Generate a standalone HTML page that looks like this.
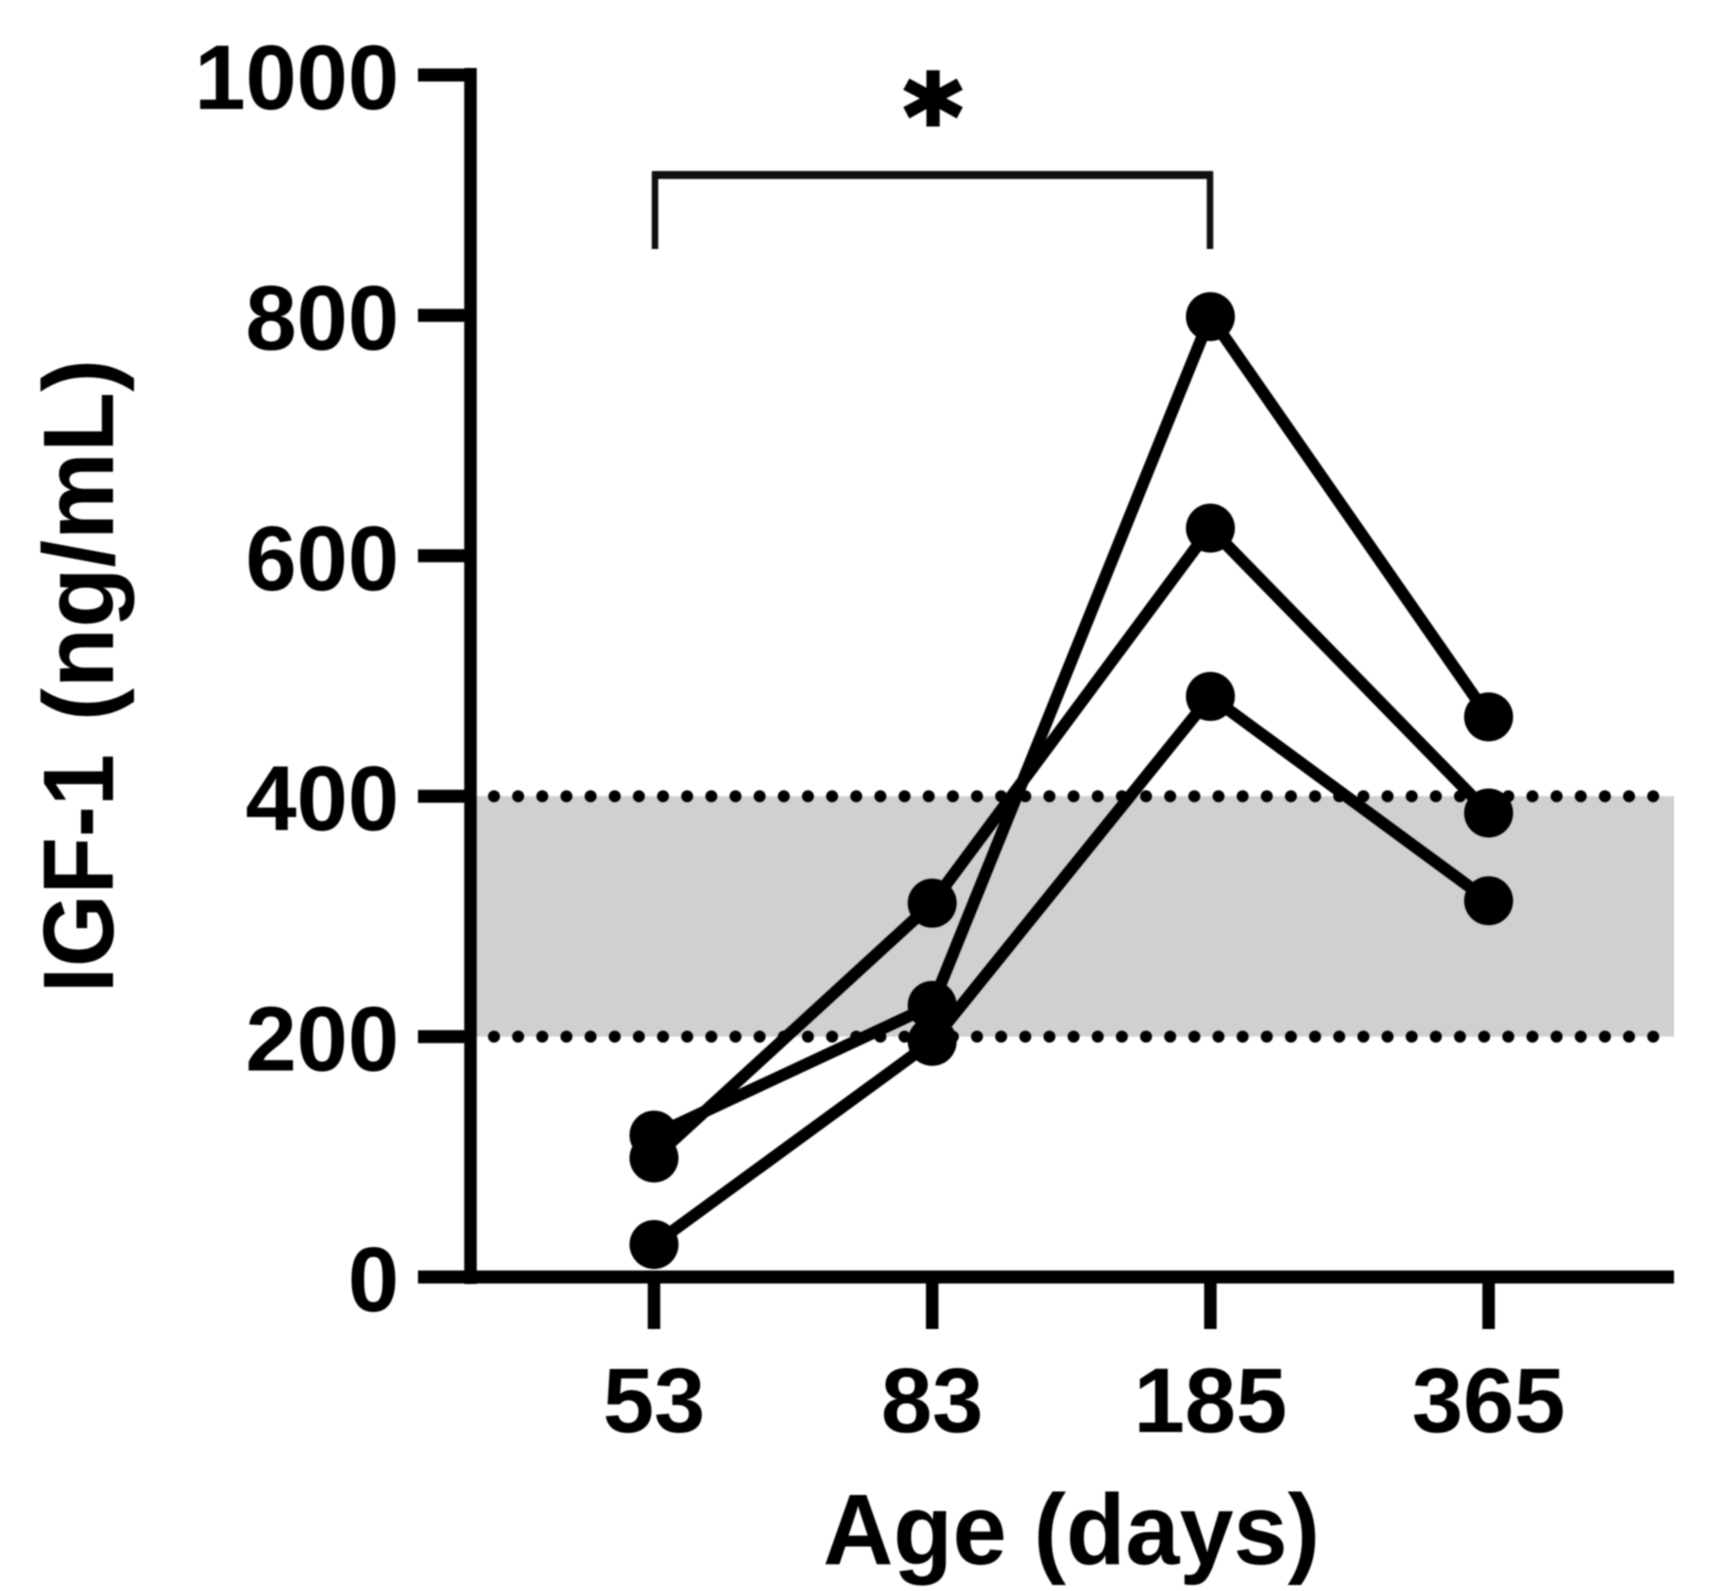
<!DOCTYPE html>
<html lang="en">
<head>
<meta charset="utf-8">
<title>IGF-1 by age</title>
<style>
html,body{margin:0;padding:0;background:#fff;}
body{width:1735px;height:1591px;overflow:hidden;}
svg{display:block;filter:blur(0.7px);}
text{font-family:"Liberation Sans",Arial,sans-serif;font-weight:700;fill:#000;}
</style>
</head>
<body>
<svg id="chart" xmlns="http://www.w3.org/2000/svg" width="1735" height="1591" viewBox="0 0 1735 1591"></svg>
<script>
const categories = ["53", "83", "185", "365"];
const seriesA = [118, 226, 799, 466];
const seriesB = [99, 311, 623, 386];
const seriesC = [27, 196, 483, 313];
const yTicks = [0, 200, 400, 600, 800, 1000];
const refRange = [200, 400];

const svg = document.getElementById('chart');
const NS = 'http://www.w3.org/2000/svg';

function y(v) { return 1277 - v * 1.202; }
function x(i) { return 654 + i * 278.2; }

function mk(tag, attrs, parent) {
  const el = document.createElementNS(NS, tag);
  for (const k in attrs) el.setAttribute(k, attrs[k]);
  (parent || svg).appendChild(el);
  return el;
}

const band = mk('rect', { x: 476, y: y(refRange[1]), width: 1198, height: y(refRange[0]) - y(refRange[1]), fill: '#d0d0d0' });



refRange.forEach(function (v) {
  const dots = mk('line', { x1: 494, x2: 1654, y1: y(v), y2: y(v), stroke: '#000', 'stroke-width': 12, 'stroke-linecap': 'round', 'stroke-dasharray': '0 24.15' });
  
  
});

const yAxis = mk('line', { x1: 470.5, x2: 470.5, y1: y(1000) - 7, y2: y(0) + 7, stroke: '#000', 'stroke-width': 12.5 });



const xAxis = mk('line', { x1: 465, x2: 1674, y1: y(0), y2: y(0), stroke: '#000', 'stroke-width': 13 });



yTicks.forEach(function (v) {
  const t = mk('line', { x1: 418, x2: 470, y1: y(v), y2: y(v), stroke: '#000', 'stroke-width': 13 });
  
  
  const l = mk('text', { x: 399, y: y(v) + 34, 'text-anchor': 'end', 'font-size': 92 });
  l.textContent = String(v);
  
  
});

categories.forEach(function (c, i) {
  const t = mk('line', { x1: x(i), x2: x(i), y1: y(0), y2: 1329, stroke: '#000', 'stroke-width': 12.5 });
  
  
  const l = mk('text', { x: x(i), y: 1432, 'text-anchor': 'middle', 'font-size': 92 });
  l.textContent = c;
  
  
});

[['a', seriesA], ['b', seriesB], ['c', seriesC]].forEach(function (s) {
  const line = mk('polyline', { points: s[1].map(function (v, i) { return x(i) + ',' + y(v); }).join(' '), fill: 'none', stroke: '#000', 'stroke-width': 12, 'stroke-linejoin': 'miter' });
  
  
  s[1].forEach(function (v, i) {
    const p = mk('circle', { cx: x(i), cy: y(v), r: 24.5, fill: '#000' });
    
    
  });
});

const bracket = mk('path', { d: 'M655 249V175H1210V249', fill: 'none', stroke: '#111', 'stroke-width': 6.5 });


const bracketBar = mk('line', { x1: 652, x2: 1213, y1: 175, y2: 175, stroke: '#111', 'stroke-width': 8 });



const star = mk('text', { x: 933, y: 156, 'text-anchor': 'middle', 'font-size': 112, stroke: '#000', 'stroke-width': 4 });
star.style.fontFamily = '"DejaVu Sans",sans-serif';
star.textContent = '*';



const yTitleMain = mk('text', { transform: 'translate(113,993) rotate(-90)', 'font-size': 100, textLength: 239, lengthAdjust: 'spacingAndGlyphs' });
yTitleMain.textContent = 'IGF-1';



const yTitleUnit = mk('text', { transform: 'translate(113,721) rotate(-90)', 'font-size': 100, textLength: 362, lengthAdjust: 'spacingAndGlyphs' });
yTitleUnit.textContent = '(ng/mL)';



const xTitle = mk('text', { x: 823, y: 1564, 'font-size': 100, textLength: 497, lengthAdjust: 'spacingAndGlyphs' });
xTitle.textContent = 'Age (days)';


</script>
</body>
</html>
